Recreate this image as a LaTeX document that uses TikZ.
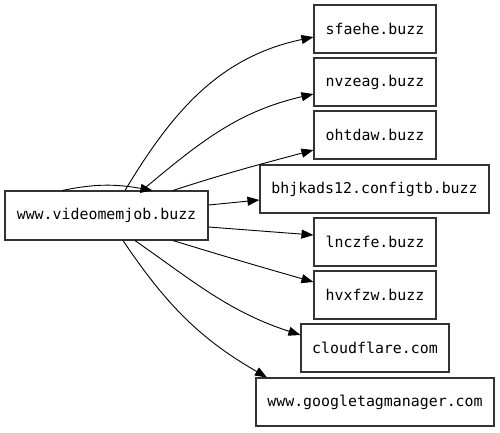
\documentclass[tikz,border=0pt]{standalone}
\usepackage{fontspec}
\setmonofont{DejaVu Sans Mono}
\usetikzlibrary{arrows.meta}
\begin{document}
\begin{tikzpicture}[x=1pt,y=-1pt,
  box/.style={draw=black!80,line width=1.1pt,fill=white,rectangle,inner sep=0pt,minimum height=48pt,
    font=\fontsize{14.9}{16}\selectfont\ttfamily},
  edge/.style={draw=black,line width=0.9pt,-{Triangle[length=12pt,width=9pt]}}]
\useasboundingbox (0,0) rectangle (500,432);
\node[box,minimum width=203pt,minimum height=49pt] (main) at (106.5,215.5) {www.videomemjob.buzz};
\node[box,minimum width=122pt] (sfaehe) at (375,29) {sfaehe.buzz};
\node[box,minimum width=122pt] (nvzeag) at (375,82) {nvzeag.buzz};
\node[box,minimum width=122pt] (ohtdaw) at (375,135) {ohtdaw.buzz};
\node[box,minimum width=229pt] (bhj) at (374.5,189) {bhjkads12.configtb.buzz};
\node[box,minimum width=122pt] (lnczfe) at (375,242) {lnczfe.buzz};
\node[box,minimum width=122pt] (hvxfzw) at (375,295) {hvxfzw.buzz};
\node[box,minimum width=148pt] (cf) at (375,348) {cloudflare.com};
\node[box,minimum width=238pt] (gtm) at (375,402) {www.googletagmanager.com};
% self loop
\draw[edge] ([xshift=-44pt]main.north) to[out=12,in=170] ([xshift=46pt]main.north);
\draw[edge] ([xshift=18.5pt]main.north) to[out=59,in=192] ([yshift=-8pt]sfaehe.west);
\draw[edge] ([xshift=35.5pt]main.north) to[out=40,in=193] ([yshift=-12pt]nvzeag.west);
\draw[edge] ([xshift=66.5pt]main.north) to[out=18,in=195] ([yshift=-15pt]ohtdaw.west);
\draw[edge] ([yshift=10.5pt]main.east) -- ([yshift=-11pt]bhj.west);
\draw[edge] ([yshift=-11.5pt]main.east) -- ([yshift=7pt]lnczfe.west);
\draw[edge] ([xshift=66.5pt]main.south) to[out=-17,in=164] ([yshift=13pt]hvxfzw.west);
\draw[edge] ([xshift=28.5pt]main.south) to[out=-35,in=162] ([yshift=13pt]cf.west);
\draw[edge] ([xshift=16.5pt]main.south) to[out=-56,in=150] ([xshift=-108pt]gtm.north);
\end{tikzpicture}
\end{document}
